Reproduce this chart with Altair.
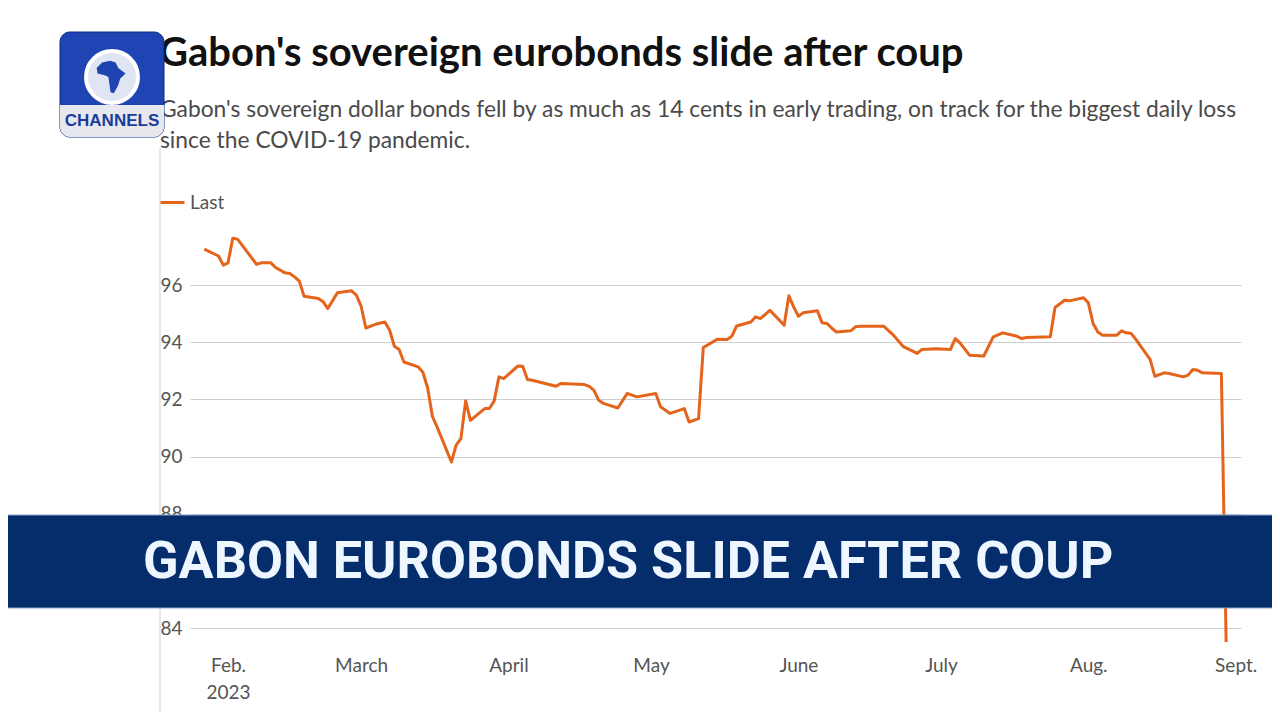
import altair as alt
import pandas as pd

# ---------------- data ----------------
DATES = [
    "2023-01-27", "2023-01-30", "2023-01-31", "2023-02-01", "2023-02-02", "2023-02-03",
    "2023-02-07", "2023-02-08", "2023-02-10", "2023-02-11", "2023-02-13", "2023-02-14",
    "2023-02-15", "2023-02-16", "2023-02-17", "2023-02-20", "2023-02-21", "2023-02-22",
    "2023-02-24", "2023-02-27", "2023-02-28", "2023-03-01", "2023-03-02", "2023-03-04",
    "2023-03-06", "2023-03-07", "2023-03-08", "2023-03-09", "2023-03-10", "2023-03-13",
    "2023-03-14", "2023-03-15", "2023-03-16", "2023-03-17", "2023-03-20", "2023-03-21",
    "2023-03-22", "2023-03-23", "2023-03-24", "2023-03-27", "2023-03-28", "2023-03-29",
    "2023-03-30", "2023-03-31", "2023-04-03", "2023-04-04", "2023-04-05", "2023-04-06",
    "2023-04-11", "2023-04-12", "2023-04-17", "2023-04-18", "2023-04-19", "2023-04-20",
    "2023-04-21", "2023-04-24", "2023-04-26", "2023-04-28", "2023-05-02", "2023-05-03",
    "2023-05-05", "2023-05-08", "2023-05-09", "2023-05-11", "2023-05-12", "2023-05-15",
    "2023-05-17", "2023-05-18", "2023-05-19", "2023-05-22", "2023-05-23", "2023-05-24",
    "2023-05-26", "2023-05-29", "2023-05-30", "2023-05-31", "2023-06-01", "2023-06-02",
    "2023-06-05", "2023-06-06", "2023-06-07", "2023-06-08", "2023-06-09", "2023-06-12",
    "2023-06-13", "2023-06-14", "2023-06-19", "2023-06-21", "2023-06-23", "2023-06-26",
    "2023-06-27", "2023-06-30", "2023-07-03", "2023-07-04", "2023-07-05", "2023-07-07",
    "2023-07-10", "2023-07-12", "2023-07-14", "2023-07-17", "2023-07-18", "2023-07-19",
    "2023-07-24", "2023-07-25", "2023-07-27", "2023-07-28", "2023-07-31", "2023-08-01",
    "2023-08-02", "2023-08-03", "2023-08-04", "2023-08-07", "2023-08-08", "2023-08-09",
    "2023-08-10", "2023-08-11", "2023-08-14", "2023-08-15", "2023-08-17", "2023-08-18",
    "2023-08-21", "2023-08-22", "2023-08-23", "2023-08-24", "2023-08-25", "2023-08-29",
    "2023-08-30",
]
PRICES = [
    97.26, 97.02, 96.70, 96.78, 97.64, 97.61,
    96.73, 96.78, 96.78, 96.62, 96.43, 96.41,
    96.29, 96.14, 95.61, 95.53, 95.42, 95.18,
    95.73, 95.80, 95.65, 95.26, 94.50, 94.63,
    94.71, 94.42, 93.86, 93.75, 93.31, 93.14,
    92.95, 92.40, 91.41, 91.03, 89.81, 90.40,
    90.63, 91.95, 91.27, 91.68, 91.68, 91.95,
    92.79, 92.73, 93.17, 93.16, 92.70, 92.67,
    92.46, 92.56, 92.52, 92.46, 92.32, 91.97,
    91.86, 91.70, 92.21, 92.09, 92.21, 91.74,
    91.51, 91.68, 91.21, 91.33, 93.82, 94.11,
    94.10, 94.21, 94.57, 94.71, 94.89, 94.83,
    95.12, 94.60, 95.63, 95.24, 94.91, 95.03,
    95.10, 94.68, 94.66, 94.50, 94.36, 94.40,
    94.54, 94.56, 94.56, 94.25, 93.86, 93.61,
    93.75, 93.77, 93.75, 94.13, 93.98, 93.55,
    93.52, 94.19, 94.33, 94.21, 94.13, 94.17,
    94.19, 95.22, 95.47, 95.45, 95.56, 95.38,
    94.66, 94.36, 94.25, 94.25, 94.40, 94.33,
    94.31, 94.10, 93.40, 92.81, 92.93, 92.91,
    92.79, 92.85, 93.05, 93.02, 92.93, 92.91,
    83.51,
]
SERIES = "Last"
MONTH_LABELS = ["Feb.", "March", "April", "May", "June", "July", "Aug.", "Sept."]
YEAR_LABEL = "2023"
Y_TICKS = [84, 86, 88, 90, 92, 94, 96]

TITLE = "Gabon's sovereign eurobonds slide after coup"
SUBTITLE_1 = ("Gabon's sovereign dollar bonds fell by as much as 14 cents in early trading, "
              "on track for the biggest daily loss")
SUBTITLE_2 = "since the COVID-19 pandemic."
BANNER = "GABON EUROBONDS SLIDE AFTER COUP"
LOGO_TEXT = "CHANNELS"

FONT = "Lato"
ORANGE = "#e5641c"
GREY_TEXT = "#555555"

df = pd.DataFrame({"date": DATES, "price": PRICES, "series": SERIES})
one = pd.DataFrame({"k": [0]})

tick_values = [alt.DateTime(year=2023, month=m, date=1, utc=True) for m in range(2, 10)]
label_arr = "[" + ",".join("'" + s + "'" for s in MONTH_LABELS) + "]"
label_expr = (
    f"utcmonth(datum.value) == 1 ? ['{MONTH_LABELS[0]}', '{YEAR_LABEL}'] : "
    f"{label_arr}[utcmonth(datum.value) - 1]"
)

line = alt.Chart(df).mark_line(strokeWidth=3, strokeJoin="round").encode(
    x=alt.X(
        "date:T",
        scale=alt.Scale(
            type="utc",
            domain=[
                alt.DateTime(year=2023, month=1, date=24, utc=True),
                alt.DateTime(year=2023, month=9, date=2, hours=3, utc=True),
            ],
        ),
        axis=alt.Axis(
            values=tick_values, labelExpr=label_expr, title=None, grid=False,
            domain=False, ticks=False, labelFontSize=19, labelColor=GREY_TEXT,
            labelFont=FONT, labelPadding=8, labelLineHeight=27, labelAlign="center",
            labelBaseline="top",
        ),
    ),
    y=alt.Y(
        "price:Q",
        scale=alt.Scale(domain=[83.3, 98], nice=False, zero=False),
        axis=alt.Axis(
            values=Y_TICKS, title=None, domain=False, ticks=False,
            gridColor="#cfcfcf", gridWidth=1, labelFontSize=19,
            labelColor=GREY_TEXT, labelFont=FONT, labelPadding=8,
        ),
    ),
    color=alt.Color(
        "series:N",
        scale=alt.Scale(range=[ORANGE]),
        legend=alt.Legend(
            title=None, orient="none", legendX=-31, legendY=-39,
            symbolType="stroke", symbolSize=576, symbolStrokeWidth=3,
            labelFontSize=19, labelColor=GREY_TEXT, labelFont=FONT,
            labelOffset=4,
        ),
    ),
)

# plot-area origin sits at page (190, 228)
frame_rule = alt.Chart(one).mark_rule(color="#d0d0d0", strokeWidth=1).encode(
    x=alt.value(-30), y=alt.value(-80), y2=alt.value(500)
)

title = alt.Chart(one).mark_text(
    align="left", baseline="alphabetic", font=FONT, fontSize=40,
    fontWeight="bold", color="#111111"
).encode(x=alt.value(-31), y=alt.value(-162), text=alt.value(TITLE))

sub1 = alt.Chart(one).mark_text(
    align="left", baseline="alphabetic", font=FONT, fontSize=22.8, color="#4a4a4a"
).encode(x=alt.value(-30), y=alt.value(-111), text=alt.value(SUBTITLE_1))

sub2 = alt.Chart(one).mark_text(
    align="left", baseline="alphabetic", font=FONT, fontSize=22.8, color="#4a4a4a"
).encode(x=alt.value(-30), y=alt.value(-80), text=alt.value(SUBTITLE_2))

banner = alt.Chart(one).mark_rect(
    color="#062d6b", stroke="#8da3c4", strokeWidth=1
).encode(
    x=alt.value(-190), x2=alt.value(1088), y=alt.value(287), y2=alt.value(380)
)

banner_text = alt.Chart(one).mark_text(
    align="left", baseline="alphabetic", font="Roboto",
    fontSize=52.2, fontWeight="bold", color="#eef6ff"
).encode(x=alt.value(-47), y=alt.value(350), text=alt.value(BANNER))

# TV channel logo (top left)
logo_box = alt.Chart(one).mark_rect(
    color="#1f45b5", cornerRadius=10, stroke="#0c2a80", strokeWidth=1
).encode(x=alt.value(-130), x2=alt.value(-26), y=alt.value(-196), y2=alt.value(-91))

logo_band = alt.Chart(one).mark_rect(
    color="#e6e8ee", cornerRadiusBottomLeft=10, cornerRadiusBottomRight=10
).encode(x=alt.value(-130), x2=alt.value(-26), y=alt.value(-123), y2=alt.value(-91))

logo_ring = alt.Chart(one).mark_point(
    filled=True, fill="#dfe5f3", stroke="#ffffff", strokeWidth=4, opacity=1
).encode(x=alt.value(-78), y=alt.value(-151), size=alt.value(2700))

AFRICA = ("M -0.55 -0.8 L -0.1 -0.9 L 0.2 -0.8 L 0.35 -0.5 L 0.75 -0.2 L 0.45 0.1 "
          "L 0.35 0.45 L 0.1 0.9 L -0.08 0.85 L -0.15 0.35 L -0.2 0.0 L -0.4 -0.1 "
          "L -0.8 -0.2 L -0.85 -0.5 Z")
logo_africa = alt.Chart(one).mark_point(
    filled=True, fill="#1d44b0", shape=AFRICA, opacity=1
).encode(x=alt.value(-78), y=alt.value(-151), size=alt.value(1300))

logo_text = alt.Chart(one).mark_text(
    align="center", baseline="middle", font="Liberation Sans", fontSize=17,
    fontWeight="bold", color="#1c3c9c"
).encode(x=alt.value(-78), y=alt.value(-107), text=alt.value(LOGO_TEXT))

chart = alt.layer(
    frame_rule, line, banner, banner_text, title, sub1, sub2,
    logo_box, logo_band, logo_ring, logo_africa, logo_text,
).properties(
    width=1051, height=420,
    padding={"left": 182, "top": 220, "right": 31, "bottom": 64},
    autosize=alt.AutoSizeParams(type="none"),
    background="white",
).configure_view(stroke=None)

chart.save("out.html", embed_options={"renderer": "svg", "actions": False})
